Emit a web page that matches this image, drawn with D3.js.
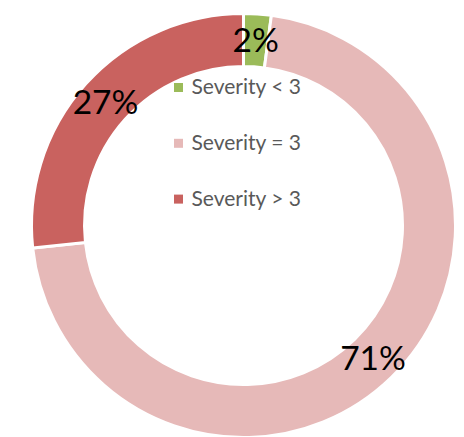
<!DOCTYPE html>
<html>
<head>
<meta charset="utf-8">
<script src="https://cdn.jsdelivr.net/npm/d3@7"></script>
<style>
  body { margin: 0; background: #fff; }
  svg { display: block; }
</style>
</head>
<body>
<div id="chart"></div>
<script>
// slice data, clockwise from 12 o'clock
const categories = ["Severity < 3", "Severity = 3", "Severity > 3"];
const values = [2.1, 71.2, 26.7];
const colors = ["#9BBB59", "#E6B9B8", "#C9625F"];

const width = 464,
    height = 437,
    cx = 243.5,
    cy = 225.5,
    outerRadius = 212,
    innerRadius = 159;

const svg = d3.select("#chart")
  .append("svg")
    .attr("width", width)
    .attr("height", height);

const g = svg.append("g")
    .attr("transform", `translate(${cx}, ${cy})`);

const pie = d3.pie().sort(null).value(d => d.value);
const arcs = pie(categories.map((c, i) => ({name: c, value: values[i], color: colors[i]})));

const arc = d3.arc()
    .innerRadius(innerRadius)
    .outerRadius(outerRadius);

g.append("g")
  .selectAll("path")
  .data(arcs)
  .join("path")
    .attr("fill", d => d.data.color)
    .attr("stroke", "#fff")
    .attr("stroke-width", 3)
    .attr("d", arc);

// percent labels at centre of each ring slice
const fontSize = 33.5;
const total = d3.sum(values);
g.append("g")
  .selectAll("text")
  .data(arcs)
  .join("text")
    .attr("x", d => arc.centroid(d)[0])
    .attr("y", d => arc.centroid(d)[1] + fontSize * 0.36)
    .attr("text-anchor", "middle")
    .style("font-family", "Lato, sans-serif")
    .style("font-size", fontSize + "px")
    .attr("fill", "#000")
    .text(d => Math.round(d.data.value / total * 100) + "%");

// legend inside the hole
const legend = svg.append("g")
    .attr("transform", "translate(174, 87.5)");

const item = legend.selectAll("g")
  .data(categories)
  .join("g")
    .attr("transform", (d, i) => `translate(0, ${i * 55.8})`);

item.append("rect")
    .attr("x", 0)
    .attr("y", -4.5)
    .attr("width", 9)
    .attr("height", 9)
    .attr("fill", (d, i) => colors[i]);

item.append("text")
    .attr("x", 17.5)
    .attr("y", 6.8)
    .style("font-family", "Lato, sans-serif")
    .style("font-size", "21px")
    .attr("fill", "#595959")
    .text(d => d);
</script>
</body>
</html>
